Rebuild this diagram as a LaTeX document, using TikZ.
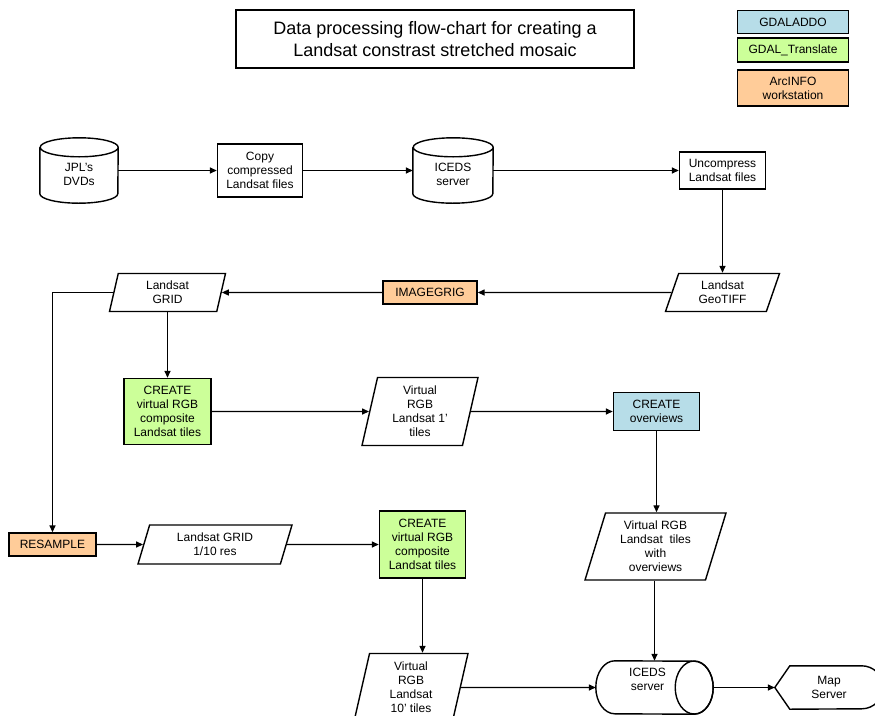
\documentclass[tikz,border=0pt]{standalone}
\usepackage{fontspec}
\setmainfont{Liberation Sans}
\usetikzlibrary{shapes.geometric,arrows.meta}
\definecolor{gblue}{HTML}{B7DDE8}
\definecolor{ggreen}{HTML}{CCFF99}
\definecolor{gpeach}{HTML}{FFCC99}
\newcommand\shtext[3]{\kern#1\raisebox{#2}[\height][\depth]{\begin{tabular}{@{}c@{}}#3\end{tabular}}}
\newcommand\vcyl[3]{\draw[ln] ([yshift=-#3]#1.north west) -- ([yshift=#3]#1.south west)
  arc[start angle=180,end angle=360,x radius=#2,y radius=#3] -- ([yshift=-#3]#1.north east)
  arc[start angle=0,end angle=180,x radius=#2,y radius=#3]
  arc[start angle=180,end angle=360,x radius=#2,y radius=#3];}
\newcommand\hcyl[3]{\draw[ln] ([xshift=#2]#1.north west)
  arc[start angle=90,end angle=270,x radius=#2,y radius=#3] -- ([xshift=-#2]#1.south east)
  arc[start angle=-90,end angle=90,x radius=#2,y radius=#3] -- cycle;
  \draw[ln] ([xshift=-#2]#1.east) ellipse[x radius=#2,y radius=#3];}
\begin{document}
\begin{tikzpicture}[x=1pt,y=-1pt,
  every node/.style={font=\fontsize{12}{14}\selectfont, align=center, inner sep=0pt, text=black},
  ln/.style={line width=1.4pt},
  box/.style 2 args={draw, ln, rectangle, minimum width=#1, minimum height=#2},
  para/.style n args={4}{trapezium, draw, ln, trapezium left angle=#1, trapezium right angle=#2,
    trapezium stretches body=true, minimum width=#3, minimum height=#4},
  cyl/.style 2 args={rectangle, minimum width=#1, minimum height=#2},
  arr/.style={ln, -{Triangle[length=7pt,width=6pt]}}]
\useasboundingbox (0,0) rectangle (875,715);
\clip (0,0) rectangle (875,715);
% title and legend
\node[box={398}{58}, font=\fontsize{18}{22}\selectfont] (title) at (435,39)
  {Data processing flow-chart for creating a\\Landsat constrast stretched mosaic};
\node[box={111}{23}, fill=gblue] (lgA) at (793,22) {GDALADDO};
\node[box={111}{24}, fill=ggreen] (lgB) at (793,50) {GDAL\_Translate};
\node[box={111}{36}, fill=gpeach] (lgC) at (793,88) {ArcINFO\\workstation};
% row 1
\node[cyl={78}{65}] (jpl) at (79,170.5) {\shtext{0pt}{-5pt}{JPL's\\DVDs}};
\node[box={85}{53}] (copy) at (260,170.5) {Copy\\compressed\\Landsat files};
\node[cyl={80}{65}] (ice1) at (453,170.5) {\shtext{0pt}{-5pt}{ICEDS\\server}};
\node[box={86}{37}] (unc) at (722.5,170.5) {Uncompress\\Landsat files};
\vcyl{jpl}{39pt}{9.5pt}
\vcyl{ice1}{40pt}{9.5pt}
% row 2
\node[para={60}{120}{114}{38}] (geo) at (722.5,292.5) {Landsat\\GeoTIFF};
\node[box={94}{23}, fill=gpeach] (img) at (430,292.5) {IMAGEGRIG};
\node[para={69}{111}{116}{38}] (grid) at (167.5,292.5) {Landsat\\GRID};
% row 3
\node[box={87}{66}, fill=ggreen] (cr1) at (167.5,411.5) {CREATE\\virtual RGB\\composite\\Landsat tiles};
\node[para={73}{107}{116}{68}] (t1) at (420,411.5) {Virtual\\RGB\\Landsat 1'\\tiles};
\node[box={86}{38}, fill=gblue] (ov) at (656.5,411.5) {CREATE\\overviews};
% row 4
\node[box={87}{23}, fill=gpeach] (res) at (52.5,544.5) {RESAMPLE};
\node[para={63}{117}{154}{39}] (g10) at (215,544.5) {Landsat GRID\\1/10 res};
\node[box={86}{67}, fill=ggreen] (cr2) at (422.5,544.5) {CREATE\\virtual RGB\\composite\\Landsat tiles};
\node[para={68}{112}{141}{67}] (tov) at (655.5,546.5) {Virtual RGB\\Landsat\ \ tiles\\with\\overviews};
% row 5
\node[para={73}{107}{114}{68}] (t10) at (411,687.5) {Virtual\\RGB\\Landsat\\10' tiles};
\node[cyl={117}{53}] (ice2) at (654.5,687.5) {\shtext{-14pt}{7pt}{ICEDS\\server}};
\hcyl{ice2}{19pt}{26.5pt}
\node[cyl={108}{43}] (map) at (829,687.5) {Map\\Server};
\draw[ln] (map.west) -- ([xshift=15pt]map.north west) -- ([xshift=-21.5pt]map.north east)
  arc[start angle=90,end angle=-90,radius=21.5pt] -- ([xshift=15pt]map.south west) -- cycle;
% connectors
\draw[arr] (jpl) -- (copy);
\draw[arr] (copy) -- (ice1);
\draw[arr] (ice1) -- (unc);
\draw[arr] (unc) -- (unc |- geo.north);
\draw[arr] (geo) -- (img);
\draw[arr] (img) -- (grid);
\draw[arr] (grid) -| (res);
\draw[arr] (cr1 |- grid.south) -- (cr1);
\draw[arr] (cr1) -- (t1);
\draw[arr] (t1) -- (ov);
\draw[arr] (ov) -- (ov |- tov.north);
\draw[arr] (ice2 |- tov.south) -- (ice2);
\draw[arr] (ice2) -- (map);
\draw[arr] (res) -- (g10);
\draw[arr] (g10) -- (cr2);
\draw[arr] (cr2) -- (cr2 |- t10.north);
\draw[arr] (t10) -- (ice2);
\end{tikzpicture}
\end{document}
